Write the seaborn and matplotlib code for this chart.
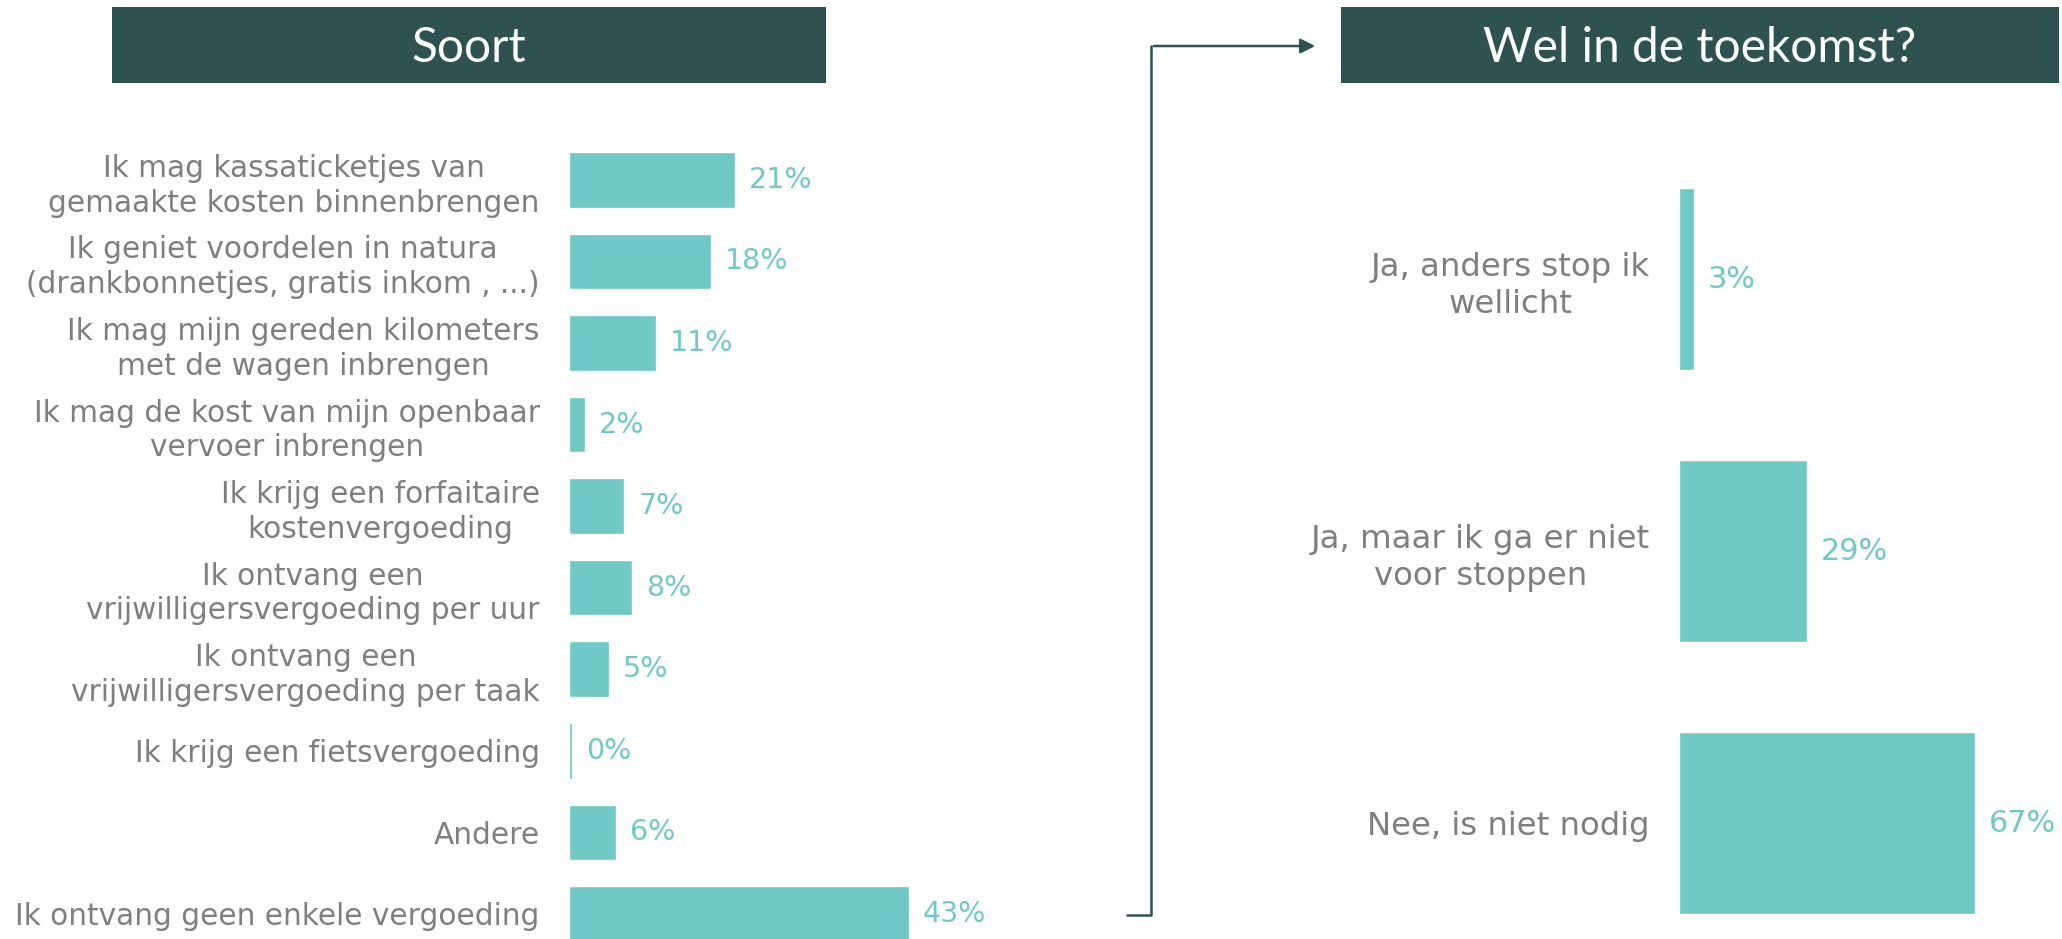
#!/usr/bin/env python3
"""
Vergoedingen vrijwilligers: soort vergoeding + wel in de toekomst?
"""

import pandas as pd
import matplotlib
matplotlib.use('Agg')
import matplotlib.pyplot as plt
from matplotlib.patches import Rectangle, FancyArrowPatch
from matplotlib.lines import Line2D
import seaborn as sns

sns.set_style("white")
plt.rcParams['font.family'] = ['DejaVu Sans']

# Data
soort_labels = [
    "Ik mag kassaticketjes van\ngemaakte kosten binnenbrengen",
    "Ik geniet voordelen in natura\n(drankbonnetjes, gratis inkom , ...)",
    "Ik mag mijn gereden kilometers\nmet de wagen inbrengen",
    "Ik mag de kost van mijn openbaar\nvervoer inbrengen",
    "Ik krijg een forfaitaire\nkostenvergoeding",
    "Ik ontvang een\nvrijwilligersvergoeding per uur",
    "Ik ontvang een\nvrijwilligersvergoeding per taak",
    "Ik krijg een fietsvergoeding",
    "Andere",
    "Ik ontvang geen enkele vergoeding",
]
soort_values = [21, 18, 11, 2, 7, 8, 5, 0.4, 6, 43]

toekomst_labels = [
    "Ja, anders stop ik\nwellicht",
    "Ja, maar ik ga er niet\nvoor stoppen",
    "Nee, is niet nodig",
]
toekomst_values = [3.4, 29, 67]

TEAL = '#70C9C5'
DARK = '#2D5250'
GREY = '#7F7F7F'

W, H = 2062, 939


def px(x0, y0, w, h):
    # pixel box (top-left origin) -> figure fraction rect
    return [x0 / W, 1 - (y0 + h) / H, w / W, h / H]


def bar_panel(ax, labels, values, xmax, ylim_bottom, width, label_fs, value_fs):
    df = pd.DataFrame({'label': labels, 'value': values})
    sns.barplot(data=df, x='value', y='label', color=TEAL, width=width,
                saturation=1, ax=ax)
    ax.set_xlim(0, xmax)
    ax.set_ylim(ylim_bottom, -0.5)
    for i, v in enumerate(values):
        ax.annotate(f"{v:.0f}%", (v, i), xytext=(10, 0), textcoords='offset points',
                    va='center', ha='left', color=TEAL, fontsize=value_fs)
    ax.set_xlabel('')
    ax.set_ylabel('')
    ax.set_xticks([])
    ax.tick_params(axis='y', length=0, pad=21, labelsize=label_fs, labelcolor=GREY)
    for t in ax.get_yticklabels():
        t.set_multialignment('center')
        t.set_linespacing(1.25)
    sns.despine(ax=ax, left=True, bottom=True)
    ax.patch.set_alpha(0)


fig = plt.figure(figsize=(W / 100, H / 100), dpi=100)

# Left panel
ax1 = fig.add_axes(px(569, 139, 395, 800))
bar_panel(ax1, soort_labels, soort_values, 50, 9.307, 0.68, 21.3, 20.5)

# Right panel
ax2 = fig.add_axes(px(1679, 143, 353, 796))
bar_panel(ax2, toekomst_labels, toekomst_values, 80, 2.426, 0.667, 23.3, 21.8)

# Title boxes
for (x0, x1, title) in [(112, 826, 'Soort'), (1341, 2059, 'Wel in de toekomst?')]:
    fig.add_artist(Rectangle((x0 / W, 1 - 83 / H), (x1 - x0) / W, 76 / H,
                             transform=fig.transFigure, color=DARK, lw=0))
    fig.text((x0 + x1) / 2 / W, 1 - 48 / H, title, ha='center', va='center',
             color='white', fontsize=34.5, family=['Lato', 'DejaVu Sans'])

# Connector arrow
fig.add_artist(Line2D([1127 / W, 1151 / W, 1151 / W], [1 - 915 / H, 1 - 915 / H, 1 - 46 / H],
                      transform=fig.transFigure, color=DARK, lw=1.8))
fig.add_artist(FancyArrowPatch((1151 / W, 1 - 46 / H), (1318 / W, 1 - 46 / H),
                               transform=fig.transFigure, color=DARK, lw=1.8,
                               arrowstyle='-|>', mutation_scale=22))

plt.savefig('out.png', dpi=100)
